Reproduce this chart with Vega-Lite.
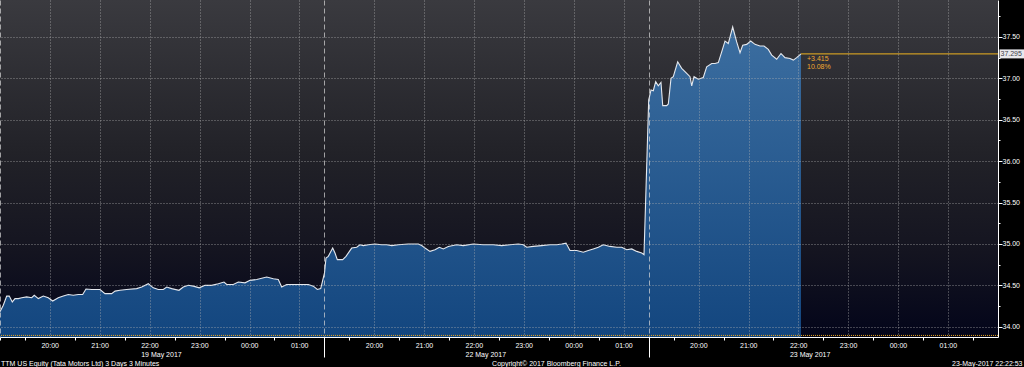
{
  "$schema": "https://vega.github.io/schema/vega-lite/v6.json",
  "width": 998,
  "height": 337,
  "autosize": {"type": "none"},
  "padding": {"left": 0, "top": 0, "right": 26, "bottom": 30},
  "background": "#000000",
  "title": {"text": "TTM US Equity (Tata Motors Ltd) 3 Days 3 Minutes", "orient": "bottom", "anchor": "start", "frame": "group", "font": "Liberation Sans", "fontSize": 7, "fontWeight": "normal", "color": "#ffffff", "offset": 0, "dx": 1, "dy": -6},
  "config": {
    "font": "Liberation Sans",
    "view": {
      "stroke": null,
      "fill": {"gradient": "linear", "x1": 0, "y1": 0, "x2": 0, "y2": 1, "stops": [
        {"offset": 0, "color": "#3a3a3f"},
        {"offset": 0.45, "color": "#222228"},
        {"offset": 0.75, "color": "#141420"},
        {"offset": 1, "color": "#03051a"}
      ]}
    }
  },
  "datasets": {
    "price": [
      {"t": 0.0, "price": 34.18}, {"t": 0.132, "price": 34.26}, {"t": 0.268, "price": 34.37}, {"t": 0.372, "price": 34.37},
      {"t": 0.492, "price": 34.30}, {"t": 0.602, "price": 34.34}, {"t": 0.734, "price": 34.34}, {"t": 0.87, "price": 34.35},
      {"t": 1.07, "price": 34.36}, {"t": 1.27, "price": 34.35}, {"t": 1.374, "price": 34.38}, {"t": 1.536, "price": 34.34},
      {"t": 1.736, "price": 34.37}, {"t": 1.936, "price": 34.35}, {"t": 2.112, "price": 34.31}, {"t": 2.336, "price": 34.35},
      {"t": 2.538, "price": 34.37}, {"t": 2.738, "price": 34.39}, {"t": 2.938, "price": 34.38}, {"t": 3.138, "price": 34.39},
      {"t": 3.314, "price": 34.39}, {"t": 3.446, "price": 34.455}, {"t": 3.676, "price": 34.45}, {"t": 4.008, "price": 34.45},
      {"t": 4.208, "price": 34.40}, {"t": 4.476, "price": 34.40}, {"t": 4.61, "price": 34.43}, {"t": 4.81, "price": 34.44},
      {"t": 5.078, "price": 34.45}, {"t": 5.478, "price": 34.46}, {"t": 5.68, "price": 34.48}, {"t": 5.944, "price": 34.52},
      {"t": 6.144, "price": 34.47}, {"t": 6.344, "price": 34.45}, {"t": 6.546, "price": 34.45}, {"t": 6.682, "price": 34.48},
      {"t": 6.882, "price": 34.46}, {"t": 7.174, "price": 34.44}, {"t": 7.346, "price": 34.48}, {"t": 7.548, "price": 34.50},
      {"t": 7.748, "price": 34.49}, {"t": 7.988, "price": 34.47}, {"t": 8.216, "price": 34.50}, {"t": 8.484, "price": 34.50},
      {"t": 8.75, "price": 34.52}, {"t": 8.978, "price": 34.54}, {"t": 9.086, "price": 34.51}, {"t": 9.35, "price": 34.51},
      {"t": 9.552, "price": 34.54}, {"t": 9.82, "price": 34.53}, {"t": 10.02, "price": 34.56}, {"t": 10.288, "price": 34.57},
      {"t": 10.69, "price": 34.60}, {"t": 10.954, "price": 34.58}, {"t": 11.154, "price": 34.57}, {"t": 11.29, "price": 34.48},
      {"t": 11.49, "price": 34.51}, {"t": 11.756, "price": 34.51}, {"t": 12.024, "price": 34.51}, {"t": 12.356, "price": 34.51},
      {"t": 12.558, "price": 34.49}, {"t": 12.718, "price": 34.45}, {"t": 12.854, "price": 34.46},
      {"t": 13.006, "price": 34.65}, {"t": 13.066, "price": 34.83}, {"t": 13.158, "price": 34.85}, {"t": 13.334, "price": 34.95},
      {"t": 13.426, "price": 34.89}, {"t": 13.52, "price": 34.81}, {"t": 13.736, "price": 34.81}, {"t": 13.868, "price": 34.85},
      {"t": 14.096, "price": 34.95}, {"t": 14.296, "price": 34.96}, {"t": 14.428, "price": 34.99}, {"t": 14.562, "price": 34.98},
      {"t": 14.762, "price": 34.99}, {"t": 15.03, "price": 35.00}, {"t": 15.298, "price": 34.99}, {"t": 15.498, "price": 34.99},
      {"t": 15.7, "price": 34.98}, {"t": 15.964, "price": 34.99}, {"t": 16.364, "price": 35.00}, {"t": 16.766, "price": 35.00},
      {"t": 16.902, "price": 34.98}, {"t": 17.034, "price": 34.95}, {"t": 17.234, "price": 34.91}, {"t": 17.434, "price": 34.93},
      {"t": 17.608, "price": 34.96}, {"t": 17.768, "price": 34.94}, {"t": 17.968, "price": 34.97}, {"t": 18.304, "price": 34.99},
      {"t": 18.57, "price": 34.98}, {"t": 18.97, "price": 35.00}, {"t": 19.37, "price": 34.99}, {"t": 19.772, "price": 34.99},
      {"t": 20.108, "price": 34.98}, {"t": 20.44, "price": 34.99}, {"t": 20.774, "price": 35.00}, {"t": 20.974, "price": 34.99},
      {"t": 21.11, "price": 34.96}, {"t": 21.374, "price": 34.97}, {"t": 21.712, "price": 34.98}, {"t": 22.044, "price": 34.99},
      {"t": 22.312, "price": 34.99}, {"t": 22.514, "price": 35.00}, {"t": 22.686, "price": 35.01}, {"t": 22.846, "price": 34.92},
      {"t": 23.114, "price": 34.92}, {"t": 23.378, "price": 34.90}, {"t": 23.58, "price": 34.92}, {"t": 23.78, "price": 34.94},
      {"t": 23.98, "price": 34.96}, {"t": 24.18, "price": 34.99}, {"t": 24.448, "price": 34.97}, {"t": 24.718, "price": 34.96},
      {"t": 24.918, "price": 34.96}, {"t": 25.118, "price": 34.93}, {"t": 25.318, "price": 34.94}, {"t": 25.52, "price": 34.91},
      {"t": 25.72, "price": 34.89}, {"t": 25.812, "price": 34.87},
      {"t": 26.0, "price": 36.74}, {"t": 26.032, "price": 36.78}, {"t": 26.092, "price": 36.86}, {"t": 26.184, "price": 36.85},
      {"t": 26.28, "price": 36.96}, {"t": 26.384, "price": 36.91}, {"t": 26.492, "price": 36.95}, {"t": 26.562, "price": 36.67},
      {"t": 26.722, "price": 36.67}, {"t": 26.786, "price": 36.69}, {"t": 26.894, "price": 37.00}, {"t": 26.986, "price": 37.02},
      {"t": 27.162, "price": 37.20}, {"t": 27.322, "price": 37.12}, {"t": 27.524, "price": 37.06}, {"t": 27.656, "price": 37.02},
      {"t": 27.724, "price": 36.91}, {"t": 27.816, "price": 37.02}, {"t": 27.988, "price": 36.99}, {"t": 28.188, "price": 37.01},
      {"t": 28.324, "price": 37.14}, {"t": 28.526, "price": 37.18}, {"t": 28.658, "price": 37.18}, {"t": 28.79, "price": 37.19},
      {"t": 28.926, "price": 37.32}, {"t": 29.058, "price": 37.45}, {"t": 29.19, "price": 37.42}, {"t": 29.366, "price": 37.62},
      {"t": 29.526, "price": 37.44}, {"t": 29.66, "price": 37.31}, {"t": 29.768, "price": 37.40}, {"t": 29.928, "price": 37.41},
      {"t": 30.088, "price": 37.45}, {"t": 30.26, "price": 37.41}, {"t": 30.46, "price": 37.39}, {"t": 30.622, "price": 37.39},
      {"t": 30.794, "price": 37.35}, {"t": 30.93, "price": 37.28}, {"t": 31.13, "price": 37.23}, {"t": 31.302, "price": 37.30},
      {"t": 31.462, "price": 37.25}, {"t": 31.664, "price": 37.24}, {"t": 31.796, "price": 37.22}, {"t": 31.932, "price": 37.25},
      {"t": 32.104, "price": 37.295}
    ],
    "last": [
      {"t": 32.104, "price": 37.295, "change": "+3.415", "pct": "10.08%", "label": "37.295"}
    ],
    "baseline": [
      {"price": 33.895}
    ]
  },
  "layer": [
    {
      "data": {"name": "price"},
      "mark": {"type": "area", "interpolate": "linear", "color": {"gradient": "linear", "x1": 0, "y1": 0, "x2": 0, "y2": 1, "stops": [
        {"offset": 0, "color": "#3c6ea0"},
        {"offset": 1, "color": "#13467f"}
      ]}},
      "encoding": {
        "x": {
          "field": "t", "type": "quantitative",
          "scale": {"domain": [0, 40], "nice": false, "zero": false},
          "axis": {
            "orient": "bottom",
            "zindex": 1,
            "values": [0,1,2,3,4,5,6,7,8,9,10,11,12,13,14,15,16,17,18,19,20,21,22,23,24,25,26,27,28,29,30,31,32,33,34,35,36,37,38,39],
            "tickCount": 500,
            "labelExpr": "((datum.value % 13) % 2 === 1 || datum.value % 13 === 0) ? '' : (datum.value % 13 === 6 ? [['20:00','21:00','22:00','23:00','00:00','01:00'][(datum.value % 13) / 2 - 1], ['19 May 2017','22 May 2017','23 May 2017'][floor(datum.value / 13)]] : ['20:00','21:00','22:00','23:00','00:00','01:00'][(datum.value % 13) / 2 - 1])",
            "labelAlign": "left",
            "labelOffset": -9,
            "labelBaseline": "top",
            "labelPadding": 1,
            "labelFont": "Liberation Sans",
            "labelFontSize": 7,
            "labelColor": "#ffffff",
            "labelLineHeight": 9,
            "labelOverlap": false,
            "labelBound": false,
            "labelFlush": false,
            "domain": true,
            "domainColor": "#ffffff",
            "domainWidth": 1,
            "ticks": true,
            "tickColor": "#ffffff",
            "tickSize": {"condition": {"test": "datum.value === 13 || datum.value === 26", "value": 20}, "value": 3},
            "tickOpacity": {"condition": {"test": "(datum.value % 13) % 2 === 0 && datum.value % 13 !== 0", "value": 0}, "value": 1},
            "grid": true,
            "gridWidth": 1,
            "gridColor": {"condition": {"test": "datum.value === 13 || datum.value === 26 || datum.value === 0", "value": "#d8d8d8"}, "value": "#b4b4b4"},
            "gridDash": {"condition": {"test": "datum.value === 13 || datum.value === 26 || datum.value === 0", "value": [5, 3]}, "value": [1, 2]},
            "gridOpacity": {"condition": {"test": "(datum.value % 13) % 2 === 0 && datum.value !== 39", "value": 0.7}, "value": 0},
            "title": "Copyright© 2017 Bloomberg Finance L.P.",
            "titleX": 556,
            "titleY": 26,
            "titleAlign": "center",
            "titleBaseline": "middle",
            "titleFont": "Liberation Sans",
            "titleFontSize": 7,
            "titleFontWeight": "normal",
            "titleColor": "#ffffff"
          }
        },
        "y": {
          "field": "price", "type": "quantitative",
          "scale": {"domain": [33.876, 37.946], "nice": false, "zero": false},
          "axis": {
            "orient": "right",
            "zindex": 1,
            "values": [34,34.25,34.5,34.75,35,35.25,35.5,35.75,36,36.25,36.5,36.75,37,37.25,37.5,37.75],
            "tickCount": 500,
            "labelExpr": "datum.value % 0.5 === 0 ? format(datum.value, '.2f') : ''",
            "labelFont": "Liberation Sans",
            "labelFontSize": 7,
            "labelColor": "#ffffff",
            "labelPadding": 0,
            "labelBaseline": "middle",
            "labelOverlap": false,
            "labelBound": false,
            "domainColor": "#ffffff",
            "domainWidth": 1,
            "tickColor": "#ffffff",
            "tickSize": {"condition": {"test": "datum.value % 0.5 === 0", "value": 4}, "value": 2},
            "grid": true,
            "gridColor": "#b4b4b4",
            "gridDash": [1, 2],
            "gridWidth": 1,
            "gridOpacity": {"condition": {"test": "datum.value % 0.5 === 0", "value": 0.7}, "value": 0},
            "title": "23-May-2017 22:22:53",
            "titleAngle": 0,
            "titleX": 24,
            "titleY": 363,
            "titleAlign": "right",
            "titleBaseline": "middle",
            "titleFont": "Liberation Sans",
            "titleFontSize": 7,
            "titleFontWeight": "normal",
            "titleColor": "#ffffff"
          }
        },
        "y2": {"datum": 33.876}
      }
    },
    {
      "data": {"name": "price"},
      "mark": {"type": "line", "interpolate": "linear", "color": "#e4e8ee", "strokeWidth": 1.1},
      "encoding": {
        "x": {"field": "t", "type": "quantitative"},
        "y": {"field": "price", "type": "quantitative"}
      }
    },
    {
      "data": {"name": "baseline"},
      "mark": {"type": "rule", "color": "#e8a317", "strokeDash": [1, 1], "strokeWidth": 1},
      "encoding": {
        "y": {"field": "price", "type": "quantitative"}
      }
    },
    {
      "data": {"name": "last"},
      "mark": {"type": "rule", "color": "#f0b420", "strokeWidth": 1},
      "encoding": {
        "x": {"field": "t", "type": "quantitative"},
        "x2": {"datum": 40},
        "y": {"field": "price", "type": "quantitative"}
      }
    },
    {
      "data": {"name": "last"},
      "mark": {"type": "text", "align": "left", "baseline": "middle", "dx": 6, "dy": 5, "fontSize": 7, "font": "Liberation Sans", "color": "#f0a830"},
      "encoding": {
        "x": {"field": "t", "type": "quantitative"},
        "y": {"field": "price", "type": "quantitative"},
        "text": {"field": "change"}
      }
    },
    {
      "data": {"name": "last"},
      "mark": {"type": "text", "align": "left", "baseline": "middle", "dx": 6, "dy": 13.5, "fontSize": 7, "font": "Liberation Sans", "color": "#f0a830"},
      "encoding": {
        "x": {"field": "t", "type": "quantitative"},
        "y": {"field": "price", "type": "quantitative"},
        "text": {"field": "pct"}
      }
    },
    {
      "data": {"name": "last"},
      "mark": {"type": "rect", "color": "#e8e8ec", "clip": false, "height": 9},
      "encoding": {
        "x": {"datum": 40.06},
        "x2": {"datum": 41.06},
        "y": {"field": "price", "type": "quantitative"}
      }
    },
    {
      "data": {"name": "last"},
      "mark": {"type": "text", "align": "left", "baseline": "middle", "dx": 1, "fontSize": 7, "font": "Liberation Sans", "color": "#404048", "clip": false},
      "encoding": {
        "x": {"datum": 40.06},
        "y": {"field": "price", "type": "quantitative"},
        "text": {"field": "label"}
      }
    }
  ]
}
